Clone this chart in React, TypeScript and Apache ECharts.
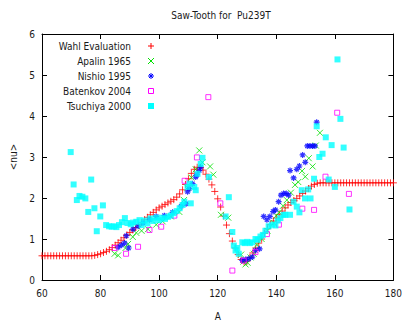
import React, { useEffect, useRef } from "react";
import * as echarts from "echarts";

const titleText = "Saw-Tooth for  Pu239T";
const xTicks = [60, 80, 100, 120, 140, 160, 180];
const yTicks = [0, 1, 2, 3, 4, 5, 6];

const seriesNames = ["Wahl Evaluation", "Apalin 1965", "Nishio 1995", "Batenkov 2004", "Tsuchiya 2000"];
const seriesColors = ["#ff0000", "#00e000", "#0000ff", "#ff00ff", "#00ffff"];

const wahlA = [
  60, 61, 62, 63, 64, 65, 66, 67, 68, 69, 70, 71, 72, 73, 74, 75, 76, 77, 78, 79,
  80, 81, 82, 83, 84, 85, 86, 87, 88, 89, 90, 91, 92, 93, 94, 95, 96, 97, 98, 99,
  100, 101, 102, 103, 104, 105, 106, 107, 108, 109, 110, 111, 112, 113, 114, 115, 116, 117, 118, 119,
  120, 121, 122, 123, 124, 125, 126, 127, 128, 129, 130, 131, 132, 133, 134, 135, 136, 137, 138, 139,
  140, 141, 142, 143, 144, 145, 146, 147, 148, 149, 150, 151, 152, 153, 154, 155, 156, 157, 158, 159,
  160, 161, 162, 163, 164, 165, 166, 167, 168, 169, 170, 171, 172, 173, 174, 175, 176, 177, 178, 179, 180,
];
const wahlNu = [
  0.59, 0.59, 0.59, 0.59, 0.59, 0.59, 0.59, 0.59, 0.59, 0.59, 0.59, 0.59, 0.59, 0.59, 0.59, 0.59, 0.59, 0.59, 0.6, 0.62,
  0.64, 0.67, 0.7, 0.74, 0.79, 0.85, 0.91, 0.97, 1.03, 1.1, 1.16, 1.22, 1.28, 1.34, 1.4, 1.47, 1.53, 1.59, 1.65, 1.71,
  1.76, 1.8, 1.84, 1.88, 1.92, 1.96, 2.02, 2.1, 2.2, 2.33, 2.47, 2.6, 2.7, 2.75, 2.74, 2.68, 2.58, 2.46, 2.32, 2.16,
  1.98, 1.78, 1.56, 1.34, 1.13, 0.95, 0.78, 0.62, 0.5, 0.44, 0.46, 0.55, 0.66, 0.78, 0.9, 1.0, 1.14, 1.25, 1.35, 1.44,
  1.51, 1.59, 1.68, 1.76, 1.83, 1.89, 1.94, 1.99, 2.05, 2.11, 2.17, 2.23, 2.29, 2.33, 2.36, 2.37, 2.37, 2.37, 2.37, 2.37,
  2.37, 2.37, 2.37, 2.37, 2.37, 2.37, 2.37, 2.37, 2.37, 2.37, 2.37, 2.37, 2.37, 2.37, 2.37, 2.37, 2.37, 2.37, 2.37, 2.37, 2.37,
];

const apalinA = [84.8, 86.0, 88.5, 89.4, 91.0, 92.2, 94.0, 96.2, 99.0, 101.2, 104.0, 106.9, 108.5, 109.7, 111.0, 112.5, 113.7, 114.8, 117.4, 118.5, 121.1, 123.6, 128.0, 128.8, 129.5, 130.2, 131.2, 132.3, 133.4, 135.0, 137.0, 139.1, 140.0, 141.0, 142.3, 143.6, 145.0, 146.4, 147.5, 148.8, 149.9, 151.1, 152.4, 153.5, 154.9];
const apalinNu = [0.64, 0.6, 0.78, 0.88, 1.05, 1.15, 1.2, 1.24, 1.35, 1.43, 1.55, 1.66, 1.95, 2.25, 2.5, 2.7, 3.16, 2.87, 2.77, 2.57, 1.59, 1.52, 0.62, 0.45, 0.38, 0.42, 0.55, 0.64, 0.86, 1.0, 1.2, 1.39, 1.57, 1.65, 1.81, 1.95, 2.13, 2.32, 2.39, 2.66, 2.52, 2.97, 2.77, 3.28, 3.59];

const nishioA = [86.0, 87.1, 88.2, 88.8, 89.6, 91.1, 92.8, 94.5, 96.7, 99.0, 101.8, 104.6, 107.5, 109.2, 109.7, 110.3, 111.4, 112.5, 112.9, 113.7, 114.2, 128.4, 129.5, 130.6, 131.8, 132.9, 134.3, 135.7, 136.8, 137.8, 138.9, 139.7, 140.8, 141.6, 142.5, 143.4, 144.2, 144.7, 145.9, 147.0, 147.9, 149.0, 149.9, 150.6, 151.5, 152.4, 153.2, 153.8];
const nishioNu = [0.8, 0.85, 0.9, 1.08, 0.78, 1.24, 1.31, 1.39, 1.47, 1.55, 1.57, 1.65, 1.8, 1.86, 2.15, 2.23, 2.35, 2.51, 2.57, 2.67, 2.75, 0.48, 0.5, 0.52, 0.56, 0.72, 0.76, 1.55, 1.47, 1.55, 1.67, 1.71, 1.91, 2.07, 2.11, 2.11, 2.07, 2.67, 2.49, 2.7, 2.78, 3.05, 2.87, 3.27, 3.27, 3.27, 3.27, 3.85];

const batenkovA = [84.8, 88.7, 92.8, 96.7, 100.7, 105.2, 108.7, 112.9, 116.8, 120.9, 125.0, 128.9, 132.9, 136.8, 140.9, 148.9, 152.9, 156.8, 160.8, 164.8];
const batenkovNu = [0.78, 0.64, 0.81, 1.22, 1.3, 1.57, 2.42, 2.99, 4.46, 1.87, 0.23, 0.47, 0.68, 1.12, 1.35, 1.74, 1.71, 2.52, 4.08, 2.1];

const tsuchiyaA = [69.8, 70.8, 71.9, 72.8, 73.8, 74.8, 75.8, 76.8, 77.9, 78.7, 79.9, 80.8, 81.9, 82.9, 83.8, 84.6, 85.4, 86.3, 87.3, 88.3, 89.2, 90.3, 91.1, 92.2, 93.3, 94.0, 95.0, 96.0, 97.0, 98.0, 99.0, 100.0, 101.0, 102.0, 103.0, 104.0, 105.0, 106.0, 107.0, 108.0, 108.6, 109.7, 110.4, 110.8, 112.0, 112.5, 113.1, 114.2, 114.8, 117.0, 122.7, 123.8, 125.0, 125.5, 126.1, 126.7, 127.2, 128.4, 129.2, 130.1, 131.0, 131.8, 132.9, 133.6, 134.6, 135.4, 136.3, 137.4, 138.5, 139.7, 140.5, 141.4, 142.5, 143.1, 144.7, 145.9, 147.0, 147.9, 148.7, 149.8, 150.9, 151.7, 152.9, 153.8, 154.7, 155.8, 156.9, 157.9, 158.9, 160.0, 160.9, 161.9, 163.0, 165.0];
const tsuchiyaNu = [3.12, 2.33, 1.95, 2.05, 2.03, 1.99, 1.66, 2.45, 1.75, 1.19, 1.55, 1.82, 1.34, 1.31, 1.3, 1.31, 1.29, 1.34, 1.41, 1.51, 1.39, 1.36, 1.4, 1.42, 1.46, 1.34, 1.45, 1.38, 1.5, 1.44, 1.52, 1.46, 1.52, 1.49, 1.54, 1.57, 1.63, 1.68, 1.75, 1.83, 1.91, 2.27, 2.35, 1.87, 2.27, 2.19, 2.59, 2.83, 2.98, 2.51, 1.55, 2.02, 1.17, 0.84, 0.72, 0.78, 0.64, 0.92, 0.9, 0.93, 0.9, 0.92, 1.0, 0.98, 1.06, 1.1, 1.2, 1.31, 1.35, 1.33, 1.45, 1.51, 1.59, 1.59, 1.59, 1.91, 1.79, 1.65, 2.19, 1.99, 2.21, 1.99, 2.47, 3.75, 3.0, 3.08, 3.48, 2.45, 3.29, 2.27, 5.38, 3.93, 3.23, 1.72];

const FONT = "'DejaVu Sans Condensed', 'Liberation Sans Narrow', 'DejaVu Sans', sans-serif";
const TXT = "#1a1a1a";

const PLUS = "path://M0,5L10,5M5,0L5,10";
const CROSS = "path://M0,0L10,10M0,10L10,0";
const STAR = "path://M0,5L10,5M5,0L5,10M1.5,1.5L8.5,8.5M1.5,8.5L8.5,1.5";

function pairs(a: number[], b: number[]) {
  return a.map((x, i) => [x, b[i]]);
}

export default function App() {
  const ref = useRef<HTMLDivElement>(null);
  useEffect(() => {
    if (!ref.current) return;
    const chart = echarts.init(ref.current, null, { renderer: "svg" });

    const legendX = 131;
    const symX = 151;
    const rowY = [46, 61, 76, 91, 106];
    const legendGraphics: any[] = [];
    seriesNames.forEach((name, i) => {
      legendGraphics.push({
        type: "text",
        x: legendX,
        y: rowY[i],
        style: { text: name, fill: TXT, font: `10px ${FONT}`, textAlign: "right", textVerticalAlign: "middle" },
      });
    });
    const c = seriesColors;
    const s = 3;
    legendGraphics.push(
      { type: "line", shape: { x1: symX - s, y1: rowY[0], x2: symX + s, y2: rowY[0] }, style: { stroke: c[0], lineWidth: 1 } },
      { type: "line", shape: { x1: symX, y1: rowY[0] - s, x2: symX, y2: rowY[0] + s }, style: { stroke: c[0], lineWidth: 1 } },
      { type: "line", shape: { x1: symX - s, y1: rowY[1] - s, x2: symX + s, y2: rowY[1] + s }, style: { stroke: c[1], lineWidth: 1 } },
      { type: "line", shape: { x1: symX - s, y1: rowY[1] + s, x2: symX + s, y2: rowY[1] - s }, style: { stroke: c[1], lineWidth: 1 } },
      { type: "line", shape: { x1: symX - s, y1: rowY[2], x2: symX + s, y2: rowY[2] }, style: { stroke: c[2], lineWidth: 1 } },
      { type: "line", shape: { x1: symX, y1: rowY[2] - s, x2: symX, y2: rowY[2] + s }, style: { stroke: c[2], lineWidth: 1 } },
      { type: "line", shape: { x1: symX - 2, y1: rowY[2] - 2, x2: symX + 2, y2: rowY[2] + 2 }, style: { stroke: c[2], lineWidth: 1 } },
      { type: "line", shape: { x1: symX - 2, y1: rowY[2] + 2, x2: symX + 2, y2: rowY[2] - 2 }, style: { stroke: c[2], lineWidth: 1 } },
      { type: "rect", shape: { x: symX - 2.5, y: rowY[3] - 2.5, width: 5, height: 5 }, style: { fill: "none", stroke: c[3], lineWidth: 1 } },
      { type: "rect", shape: { x: symX - 3, y: rowY[4] - 3, width: 6, height: 6 }, style: { fill: c[4] } }
    );

    const axisCommon = {
      type: "value" as const,
      axisLine: { show: true, onZero: false, lineStyle: { color: "#000", width: 1 } },
      axisTick: { show: true, inside: true, length: 5, lineStyle: { color: "#000", width: 1 } },
      splitLine: { show: false },
    };

    const option: any = {
      animation: false,
      backgroundColor: "#fff",
      title: {
        text: titleText,
        left: 216,
        top: 5,
        textAlign: "center",
        textStyle: { fontFamily: FONT, fontSize: 10, fontWeight: "normal", color: TXT },
      },
      grid: { left: 40, right: 11, top: 34, bottom: 37, containLabel: false },
      xAxis: [
        {
          ...axisCommon,
          position: "bottom",
          min: xTicks[0],
          max: xTicks[xTicks.length - 1],
          interval: 20,
          name: "A",
          nameLocation: "middle",
          nameGap: 31,
          nameTextStyle: { fontFamily: FONT, fontSize: 10, color: TXT },
          axisLabel: { fontFamily: FONT, fontSize: 10, color: TXT, margin: 8 },
        },
        {
          ...axisCommon,
          position: "top",
          min: xTicks[0],
          max: xTicks[xTicks.length - 1],
          interval: 20,
          axisLabel: { show: false },
        },
      ],
      yAxis: [
        {
          ...axisCommon,
          position: "left",
          min: yTicks[0],
          max: yTicks[yTicks.length - 1],
          interval: 1,
          name: "<nu>",
          nameLocation: "middle",
          nameGap: 24,
          nameRotate: 90,
          nameTextStyle: { fontFamily: FONT, fontSize: 10, color: TXT },
          axisLabel: { fontFamily: FONT, fontSize: 10, color: TXT, margin: 7 },
        },
        {
          ...axisCommon,
          position: "right",
          min: yTicks[0],
          max: yTicks[yTicks.length - 1],
          interval: 1,
          axisLabel: { show: false },
        },
      ],
      graphic: legendGraphics,
      series: [
        {
          name: seriesNames[0],
          type: "scatter",
          data: pairs(wahlA, wahlNu),
          symbol: PLUS,
          symbolSize: 7,
          itemStyle: { color: "none", borderColor: c[0], borderWidth: 1 },
          z: 2,
        },
        {
          name: seriesNames[1],
          type: "scatter",
          data: pairs(apalinA, apalinNu),
          symbol: CROSS,
          symbolSize: 6,
          itemStyle: { color: "none", borderColor: c[1], borderWidth: 1 },
          z: 3,
        },
        {
          name: seriesNames[2],
          type: "scatter",
          data: pairs(nishioA, nishioNu),
          symbol: STAR,
          symbolSize: 6,
          itemStyle: { color: "none", borderColor: c[2], borderWidth: 1.2 },
          z: 4,
        },
        {
          name: seriesNames[3],
          type: "scatter",
          data: pairs(batenkovA, batenkovNu),
          symbol: "rect",
          symbolSize: 5,
          itemStyle: { color: "rgba(0,0,0,0)", borderColor: c[3], borderWidth: 1 },
          z: 5,
        },
        {
          name: seriesNames[4],
          type: "scatter",
          data: pairs(tsuchiyaA, tsuchiyaNu),
          symbol: "rect",
          symbolSize: 6,
          itemStyle: { color: c[4] },
          z: 6,
        },
      ],
    };
    chart.setOption(option);
    return () => chart.dispose();
  }, []);
  return <div ref={ref} style={{ width: 405, height: 326, position: "absolute", left: 0, top: 0 }} />;
}
